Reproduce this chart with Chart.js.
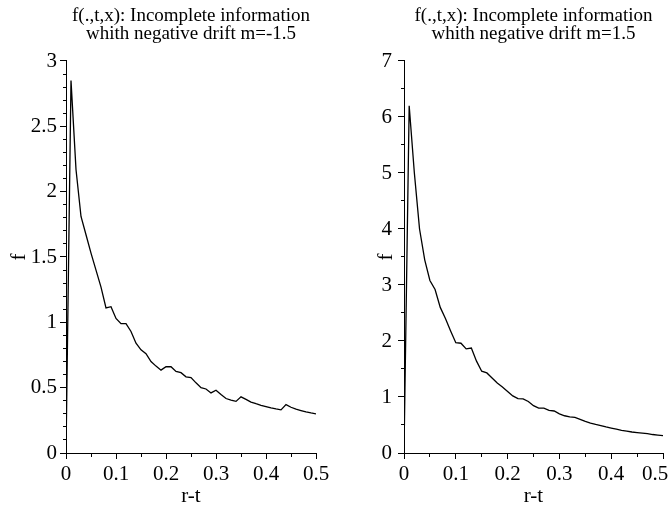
<!doctype html>
<html lang="en">
<head>
    <meta charset="utf-8">
    <title>f(.,t,x): Incomplete information</title>
    <script src="https://cdn.jsdelivr.net/npm/chart.js@4.4.0/dist/chart.umd.min.js"></script>
    <style>
        html, body { margin: 0; padding: 0; background: #fff; }
        #wrap { position: relative; width: 670px; height: 507px; overflow: hidden; }
        .panel { position: absolute; top: 0; width: 335px; height: 507px; }
    </style>
</head>
<body>
<div id="wrap">
    <div class="panel" style="left:0"><canvas id="chartNeg"></canvas></div>
    <div class="panel" style="left:335px"><canvas id="chartPos"></canvas></div>
</div>
<script>
    // r-t, sampled every 0.01
    var rt = [0, 0.01, 0.02, 0.03, 0.04, 0.05, 0.06, 0.07, 0.08, 0.09,
        0.10, 0.11, 0.12, 0.13, 0.14, 0.15, 0.16, 0.17, 0.18, 0.19,
        0.20, 0.21, 0.22, 0.23, 0.24, 0.25, 0.26, 0.27, 0.28, 0.29,
        0.30, 0.31, 0.32, 0.33, 0.34, 0.35, 0.36, 0.37, 0.38, 0.39,
        0.40, 0.41, 0.42, 0.43, 0.44, 0.45, 0.46, 0.47, 0.48, 0.49, 0.50];

    // f for drift m=-1.5 (left panel)
    var fNeg = [0, 2.85, 2.17, 1.81, 1.67, 1.53, 1.40, 1.27, 1.11, 1.12,
        1.03, 0.99, 0.99, 0.93, 0.84, 0.79, 0.76, 0.70, 0.665, 0.634,
        0.66, 0.66, 0.624, 0.615, 0.583, 0.577, 0.537, 0.50, 0.49, 0.46,
        0.48, 0.447, 0.417, 0.405, 0.395, 0.43, 0.41, 0.39, 0.377, 0.365,
        0.355, 0.345, 0.337, 0.33, 0.37, 0.35, 0.335, 0.325, 0.315, 0.307, 0.30];

    // f for drift m=1.5 (right panel)
    var fPos = [0, 6.2, 5.0, 4.0, 3.45, 3.08, 2.92, 2.6, 2.4, 2.18,
        1.97, 1.96, 1.86, 1.875, 1.64, 1.46, 1.43, 1.34, 1.25, 1.18,
        1.10, 1.02, 0.97, 0.965, 0.92, 0.845, 0.80, 0.80, 0.76, 0.75,
        0.70, 0.665, 0.645, 0.635, 0.60, 0.565, 0.535, 0.51, 0.49, 0.465,
        0.445, 0.425, 0.405, 0.39, 0.375, 0.365, 0.355, 0.345, 0.33, 0.32, 0.31];

    var titleNeg = ["f(.,t,x): Incomplete information", "whith negative drift m=-1.5"];
    var titlePos = ["f(.,t,x): Incomplete information", "whith negative drift m=1.5"];

    // axis ranges and tick steps
    var xMax = 0.5, xMajor = 0.1, xMinor = 0.05;
    var yMaxNeg = 3, yMajorNeg = 0.5, yMinorNeg = 0.1;
    var yMaxPos = 7, yMajorPos = 1, yMinorPos = 0.5;

    var serif = "'Liberation Serif', 'Times New Roman', serif";

    function isMajor(v, step) {
        return Math.abs(v / step - Math.round(v / step)) < 1e-6;
    }
    function fmt(v) {
        return String(Math.round(v * 100) / 100);
    }

    function makeChart(id, title, values, yMax, yMajor, yMinor, opt) {
        var points = rt.map(function (x, i) { return {x: x, y: values[i]}; });
        return new Chart(document.getElementById(id), {
            type: 'line',
            data: {
                datasets: [{
                    data: points,
                    borderColor: '#000',
                    borderWidth: 1.3,
                    pointRadius: 0,
                    tension: 0,
                    fill: false
                }]
            },
            options: {
                responsive: true,
                maintainAspectRatio: false,
                animation: false,
                layout: {padding: {left: 0, right: opt.padRight, top: 0, bottom: 0}},
                plugins: {
                    legend: {display: false},
                    tooltip: {enabled: false},
                    title: {
                        display: true,
                        text: title,
                        color: '#000',
                        fullSize: false,
                        font: {family: serif, size: 19, weight: 'normal', lineHeight: 0.963},
                        padding: {top: 7, bottom: 17.4}
                    }
                },
                scales: {
                    x: {
                        type: 'linear',
                        min: 0,
                        max: xMax,
                        afterFit: function (s) { s.height = 54; s.paddingRight = 0; s.paddingLeft = 0; },
                        border: {color: '#000', width: 1},
                        grid: {
                            drawOnChartArea: false,
                            tickLength: 6,
                            tickColor: '#000',
                            tickBorderDash: function (ctx) {
                                return isMajor(ctx.tick.value, xMajor) ? [] : [3, 20];
                            }
                        },
                        ticks: {
                            stepSize: xMinor,
                            autoSkip: false,
                            maxRotation: 0,
                            color: '#000',
                            padding: 3,
                            font: {family: serif, size: 21},
                            callback: function (v) {
                                if (!isMajor(v, xMajor)) return '';
                                if (opt.lastPad && Math.abs(v - xMax) < 1e-6) return fmt(v) + '\u00a0\u00a0\u00a0';
                                return fmt(v);
                            }
                        },
                        title: {
                            display: true,
                            text: 'r-t',
                            color: '#000',
                            font: {family: serif, size: 21, lineHeight: 1},
                            padding: {top: 0, bottom: 0}
                        }
                    },
                    y: {
                        min: 0,
                        max: yMax,
                        afterFit: function (s) { s.width = opt.yWidth; },
                        border: {color: '#000', width: 1},
                        grid: {
                            drawOnChartArea: false,
                            tickLength: 6,
                            tickColor: '#000',
                            tickBorderDash: function (ctx) {
                                return isMajor(ctx.tick.value, yMajor) ? [] : [0, 3, 3, 20];
                            }
                        },
                        ticks: {
                            stepSize: yMinor,
                            autoSkip: false,
                            color: '#000',
                            padding: opt.yTickPad,
                            font: {family: serif, size: 21},
                            callback: function (v) {
                                return isMajor(v, yMajor) ? fmt(v) : '';
                            }
                        },
                        title: {
                            display: true,
                            text: 'f',
                            color: '#000',
                            font: {family: serif, size: 21},
                            padding: {top: opt.yTitlePad, bottom: 0}
                        }
                    }
                }
            }
        });
    }

    makeChart('chartNeg', titleNeg, fNeg, yMaxNeg, yMajorNeg, yMinorNeg,
        {yWidth: 66, padRight: 19, yTickPad: 3, yTitlePad: 7, lastPad: false});
    makeChart('chartPos', titlePos, fPos, yMaxPos, yMajorPos, yMinorPos,
        {yWidth: 69, padRight: 7, yTickPad: 6, yTitlePad: 39, lastPad: true});
</script>
</body>
</html>
